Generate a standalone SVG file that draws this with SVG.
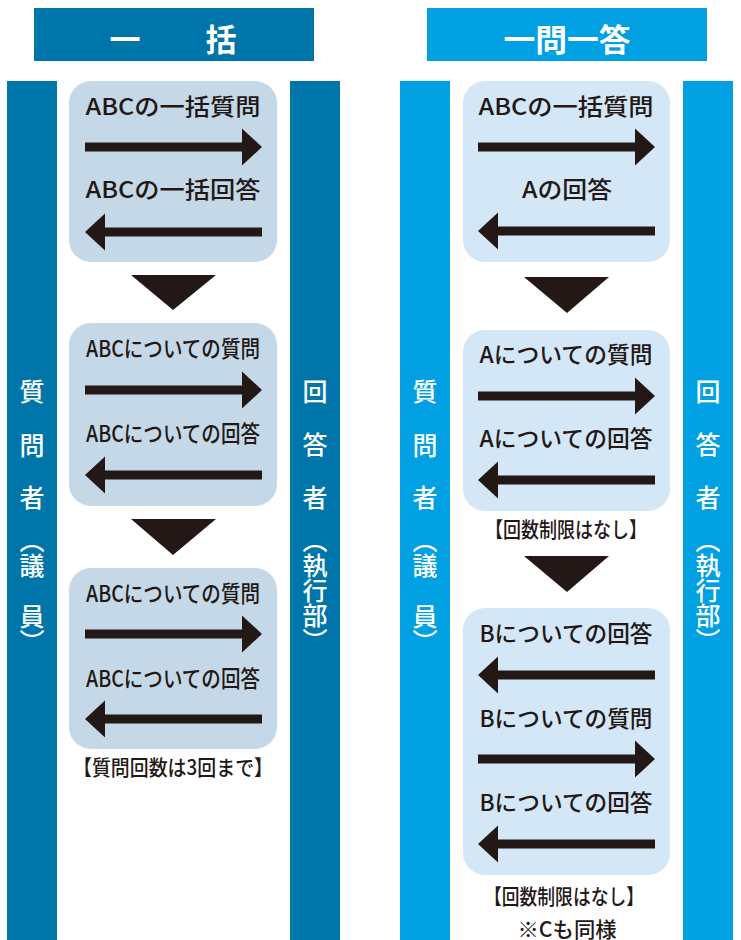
<svg xmlns="http://www.w3.org/2000/svg" xmlns:xlink="http://www.w3.org/1999/xlink" width="741" height="940" viewBox="0 0 741 940">
<style>
.t{font-family:"Noto Sans CJK JP","Noto Sans",sans-serif;fill:#231815;font-size:23px;font-weight:500;text-anchor:middle}
.n{font-family:"Noto Sans CJK JP","Noto Sans",sans-serif;fill:#231815;font-size:21px;font-weight:500;text-anchor:middle}
.h{font-family:"Noto Sans CJK JP","Noto Sans",sans-serif;fill:#ffffff;font-size:31px;font-weight:700;text-anchor:middle}
.v{font-family:"Noto Sans CJK JP","Noto Sans",sans-serif;fill:#ffffff;font-size:25px;font-weight:500;text-anchor:middle}
.vv{font-family:"Noto Sans CJK JP","Noto Sans",sans-serif;fill:#ffffff;font-size:25px;font-weight:500;writing-mode:vertical-rl;text-anchor:start}
.dk{fill:#0075a9}
.lt{fill:#00a0e3}
.bl{fill:#c4d8e8}
.br{fill:#d3e7f7}
.ink{fill:#231815}
</style>
<defs>
<path id="arrR" d="M0,-4.5 H157 V-18.5 L177,0 L157,18.5 V4.5 H0 Z"/>
<path id="arrL" d="M177,-4.5 H20 V-18.5 L0,0 L20,18.5 V4.5 H177 Z"/>
</defs>
<rect width="741" height="940" fill="#ffffff"/>

<g id="header-ikkatsu">
<rect class="dk" x="34" y="8" width="280" height="53"/>
<text class="h" x="125" y="51">一</text>
<text class="h" x="221" y="51">括</text>
</g>
<g id="header-ichimon">
<rect class="lt" x="427" y="8" width="280" height="53"/>
<text class="h" x="567" y="51" textLength="127" lengthAdjust="spacingAndGlyphs">一問一答</text>
</g>

<g id="left-questioner">
<rect class="dk" x="7" y="81" width="50" height="859"/>
<text class="v" x="32" y="401">質</text>
<text class="v" x="32" y="455">問</text>
<text class="v" x="32" y="507">者</text>
<text class="vv" x="32" y="528">（議</text>
<text class="vv" x="32" y="604">員）</text>
</g>
<g id="left-answerer">
<rect class="dk" x="290" y="81" width="50" height="859"/>
<text class="v" x="315" y="401">回</text>
<text class="v" x="315" y="454">答</text>
<text class="v" x="315" y="507">者</text>
<text class="vv" x="315" y="528">（執行部）</text>
</g>
<g id="right-questioner">
<rect class="lt" x="400" y="81" width="50" height="859"/>
<text class="v" x="425" y="401">質</text>
<text class="v" x="425" y="455">問</text>
<text class="v" x="425" y="507">者</text>
<text class="vv" x="425" y="528">（議</text>
<text class="vv" x="425" y="604">員）</text>
</g>
<g id="right-answerer">
<rect class="lt" x="683" y="81" width="50" height="859"/>
<text class="v" x="708" y="401">回</text>
<text class="v" x="708" y="454">答</text>
<text class="v" x="708" y="507">者</text>
<text class="vv" x="708" y="528">（執行部）</text>
</g>

<g id="left-box1">
<rect class="bl" x="69" y="81" width="208" height="181" rx="22"/>
<text class="t" x="173" y="115" textLength="175" lengthAdjust="spacingAndGlyphs">ABCの一括質問</text>
<text class="t" x="173" y="198" textLength="175" lengthAdjust="spacingAndGlyphs">ABCの一括回答</text>
</g>
<g id="left-box2">
<rect class="bl" x="69" y="323" width="208" height="183" rx="22"/>
<text class="t" x="173" y="357" textLength="174" lengthAdjust="spacingAndGlyphs">ABCについての質問</text>
<text class="t" x="173" y="442" textLength="174" lengthAdjust="spacingAndGlyphs">ABCについての回答</text>
</g>
<g id="left-box3">
<rect class="bl" x="69" y="568" width="208" height="181" rx="22"/>
<text class="t" x="173" y="602" textLength="174" lengthAdjust="spacingAndGlyphs">ABCについての質問</text>
<text class="t" x="173" y="687" textLength="174" lengthAdjust="spacingAndGlyphs">ABCについての回答</text>
</g>
<g id="left-note">
<text class="n" x="173" y="775" textLength="200" lengthAdjust="spacingAndGlyphs">【質問回数は3回まで】</text>
</g>

<g id="right-box1">
<rect class="br" x="463" y="81" width="207" height="181" rx="22"/>
<text class="t" x="566" y="115" textLength="175" lengthAdjust="spacingAndGlyphs">ABCの一括質問</text>
<text class="t" x="567" y="198" textLength="90" lengthAdjust="spacingAndGlyphs">Aの回答</text>
</g>
<g id="right-box2">
<rect class="br" x="463" y="330" width="207" height="181" rx="22"/>
<text class="t" x="566" y="363" textLength="173" lengthAdjust="spacingAndGlyphs">Aについての質問</text>
<text class="t" x="566" y="447" textLength="173" lengthAdjust="spacingAndGlyphs">Aについての回答</text>
</g>
<g id="right-note1">
<text class="n" x="566" y="537" textLength="162" lengthAdjust="spacingAndGlyphs">【回数制限はなし】</text>
</g>
<g id="right-box3">
<rect class="br" x="463" y="608" width="207" height="267" rx="22"/>
<text class="t" x="566" y="642" textLength="173" lengthAdjust="spacingAndGlyphs">Bについての回答</text>
<text class="t" x="566" y="727" textLength="173" lengthAdjust="spacingAndGlyphs">Bについての質問</text>
<text class="t" x="566" y="811" textLength="173" lengthAdjust="spacingAndGlyphs">Bについての回答</text>
</g>
<g id="right-note2">
<text class="n" x="564" y="904" textLength="160" lengthAdjust="spacingAndGlyphs">【回数制限はなし】</text>
<text class="n" x="567" y="937" textLength="99" lengthAdjust="spacingAndGlyphs">※Cも同様</text>
</g>

<g id="connectors" class="ink">
<use xlink:href="#arrR" x="85" y="147"/>
<use xlink:href="#arrL" x="85" y="232"/>
<use xlink:href="#arrR" x="85" y="390"/>
<use xlink:href="#arrL" x="85" y="475"/>
<use xlink:href="#arrR" x="85" y="634"/>
<use xlink:href="#arrL" x="85" y="719"/>
<polygon points="131,275 216,275 173,310"/>
<polygon points="131,519 216,519 173,555"/>
<use xlink:href="#arrR" x="478" y="147"/>
<use xlink:href="#arrL" x="478" y="231"/>
<use xlink:href="#arrR" x="478" y="396"/>
<use xlink:href="#arrL" x="478" y="480"/>
<use xlink:href="#arrL" x="478" y="675"/>
<use xlink:href="#arrR" x="478" y="759"/>
<use xlink:href="#arrL" x="478" y="844"/>
<polygon points="524,277 609,277 567,313"/>
<polygon points="524,556 609,556 567,592"/>
</g>
</svg>
